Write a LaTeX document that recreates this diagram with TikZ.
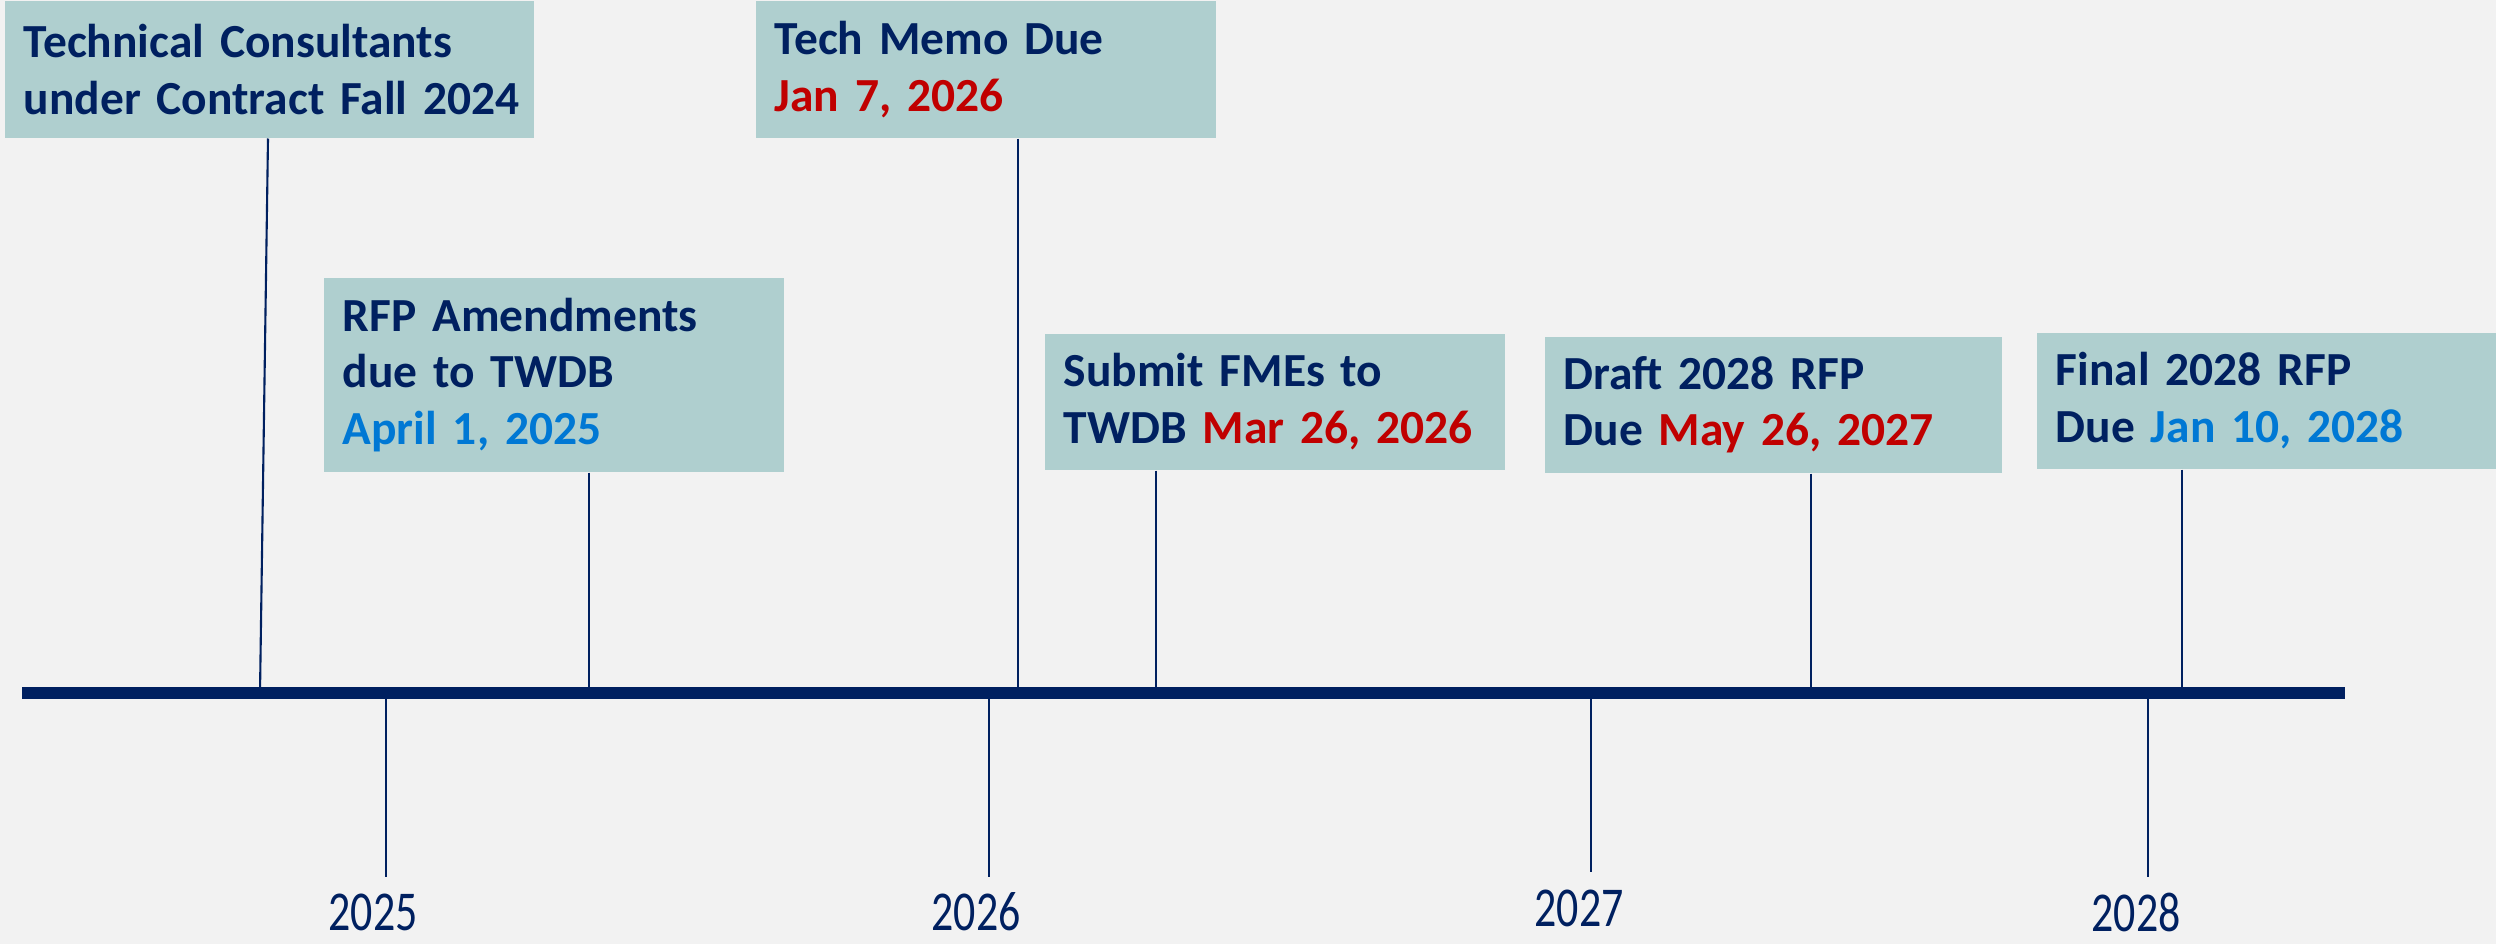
\documentclass[tikz,border=0pt]{standalone}
\usepackage{fontspec}
\setmainfont{Carlito}
\usepackage{tikz}
\usetikzlibrary{calc}

\definecolor{pagegray}{HTML}{F2F2F2}
\definecolor{boxteal}{HTML}{AFCFCF}
\definecolor{navy}{HTML}{002060}
\definecolor{datared}{HTML}{C00000}
\definecolor{datablue}{HTML}{0078D4}

\begin{document}
\begin{tikzpicture}[x=0.01cm, y=-0.01cm,
		milestone/.style={fill=boxteal, anchor=north west, inner xsep=0.19cm, inner ysep=0pt,
			align=left, text=navy, font=\bfseries\fontsize{13.5}{16.1}\selectfont},
		stem/.style={draw=navy, line width=0.6pt},
		yearlabel/.style={text=navy, font=\fontsize{16}{19}\selectfont}]
		% page
		\fill[pagegray] (0,0) rectangle (2496,944);
		\useasboundingbox (0,0) rectangle (2496,944);

		% milestone boxes
		\node[milestone, text width=4.91cm, minimum height=1.37cm] (consult) at (4,0)
			{Technical Consultants\\\mbox{under Contract Fall 2024}};
		\node[milestone, text width=4.22cm, minimum height=1.94cm] (amend) at (323,277)
			{RFP Amendments\\due to TWDB\\\textcolor{datablue}{April 1, 2025}};
		\node[milestone, text width=4.22cm, minimum height=1.37cm] (memo) at (755,0)
			{Tech Memo Due\\\textcolor{datared}{Jan 7, 2026}};
		\node[milestone, text width=4.22cm, minimum height=1.36cm] (fmes) at (1044,333)
			{Submit FMEs to\\TWDB \textcolor{datared}{Mar 26, 2026}};
		\node[milestone, text width=4.19cm, minimum height=1.36cm] (draft) at (1544,336)
			{Draft 2028 RFP\\Due \textcolor{datared}{May 26, 2027}};
		\node[milestone, text width=4.22cm, minimum height=1.36cm] (final) at (2036,332)
			{Final 2028 RFP\\Due \textcolor{datablue}{Jan 10, 2028}};

		% points on the timeline
		\coordinate (tconsult) at (260,693);
		\coordinate (tamend) at (589,693);
		\coordinate (tmemo) at (1018,693);
		\coordinate (tfmes) at (1156,693);
		\coordinate (tdraft) at (1811,693);
		\coordinate (tfinal) at (2182,693);

		\draw[stem] (consult.south -| 268,0) -- (tconsult);
		\draw[stem] (amend.south -| tamend) -- (tamend);
		\draw[stem] (memo.south -| tmemo) -- (tmemo);
		\draw[stem] (fmes.south -| tfmes) -- (tfmes);
		\draw[stem] (draft.south -| tdraft) -- (tdraft);
		\draw[stem] (final.south -| tfinal) -- (tfinal);

		% year ticks
		\coordinate (y2025) at (386,877);
		\coordinate (y2026) at (989,877);
		\coordinate (y2027) at (1591,872);
		\coordinate (y2028) at (2148,877);

		\draw[stem] (386,693) -- (y2025);
		\draw[stem] (989,693) -- (y2026);
		\draw[stem] (1591,693) -- (y2027);
		\draw[stem] (2148,693) -- (y2028);

		\node[yearlabel] (l2025) at (373,912) {\scalebox{0.78}[1]{2025}};
		\node[yearlabel] (l2026) at (976,912) {\scalebox{0.78}[1]{2026}};
		\node[yearlabel] (l2027) at (1579,908) {\scalebox{0.78}[1]{2027}};
		\node[yearlabel] (l2028) at (2136,912) {\scalebox{0.78}[1]{2028}};

		% timeline bar
		\coordinate (barstart) at (22,693);
		\coordinate (barend) at (2345,693);
		\draw[navy, line width=3.4pt] (barstart) -- (barend);

	\end{tikzpicture}
\end{document}
